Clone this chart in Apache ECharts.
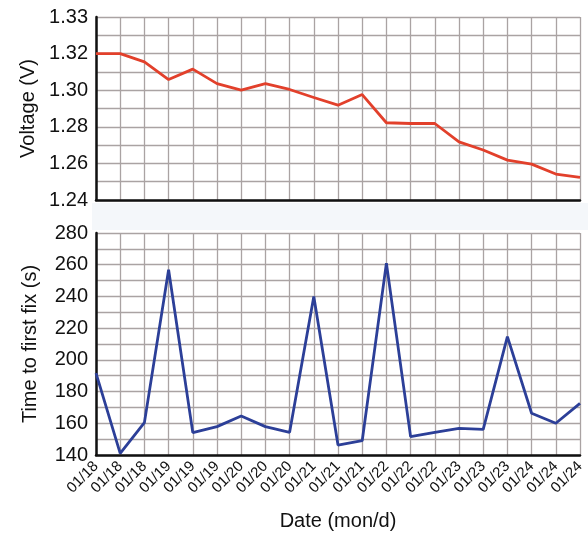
<!DOCTYPE html>
<html><head><meta charset="utf-8">
<script src="https://cdn.jsdelivr.net/npm/echarts@6/dist/echarts.min.js"></script>
<style>html,body{margin:0;padding:0;background:#fff}#c{width:588px;height:537px}</style>
</head><body><div id="c"></div>
<script>
const dates = ['01/18','01/18','01/18','01/19','01/19','01/19','01/20','01/20','01/20','01/21','01/21','01/21','01/22','01/22','01/22','01/23','01/23','01/23','01/24','01/24','01/24'];
const voltage = [1.320,1.320,1.3155,1.3058,1.3115,1.3036,1.300,1.3036,1.3004,1.296,1.2918,1.2976,1.2822,1.2818,1.2818,1.2718,1.2673,1.2618,1.2596,1.2542,1.2524];
const ttff = [191.6,141,160.4,256.8,154.1,157.9,164.6,157.9,154.3,240,146.3,149,261,151.6,154.3,156.8,156.2,214.7,166.3,160,172.6];
const voltageTicks = ['1.24','1.26','1.28','1.30','1.32','1.33'];
const ttffTicks = ['140','160','180','200','220','240','260','280'];

const FONT = '"Liberation Sans", Arial, sans-serif';
const gridColor = '#aaa3a3';
const chart = echarts.init(document.getElementById('c'));
function yAxisCommon(){
  return {
    axisLine:{show:true,lineStyle:{color:'#111',width:2.5}},
    axisTick:{show:false},
    splitLine:{show:true,lineStyle:{color:gridColor,width:1.3}},
    minorTick:{show:false,splitNumber:2},
    minorSplitLine:{show:true,lineStyle:{color:gridColor,width:1.3}},
    nameLocation:'middle',
    nameGap:56,
    nameTextStyle:{fontFamily:FONT,fontSize:20,color:'#111'},
  };
}
chart.setOption({
  backgroundColor:'#fff',
  animation:false,
  graphic:[{type:'rect',shape:{x:92,y:203,width:496,height:27},style:{fill:'#f4f7fa'},z:-1}],
  grid:[
    {left:96,right:8,top:17,height:183},
    {left:96,right:8,top:233,height:222}
  ],
  xAxis:[
    {type:'category',gridIndex:0,data:dates,boundaryGap:false,
     axisLine:{lineStyle:{color:'#111',width:2.5}},axisTick:{show:false},axisLabel:{show:false},
     splitLine:{show:true,interval:0,lineStyle:{color:gridColor,width:1.3}}},
    {type:'category',gridIndex:1,data:dates,boundaryGap:false,
     axisLine:{lineStyle:{color:'#111',width:2.5}},axisTick:{show:false},
     axisLabel:{show:true,interval:0,rotate:45,margin:9,fontFamily:FONT,fontSize:15,color:'#111',hideOverlap:false},
     splitLine:{show:true,interval:0,lineStyle:{color:gridColor,width:1.3}},
     name:'Date (mon/d)',nameLocation:'middle',nameGap:56,
     nameTextStyle:{fontFamily:FONT,fontSize:20,color:'#111'}}
  ],
  yAxis:[
    Object.assign(yAxisCommon(),{type:'value',gridIndex:0,min:1.24,max:1.34,interval:0.02,
      name:'Voltage (V)',
      axisLabel:{margin:8,fontFamily:FONT,fontSize:20,color:'#111',formatter:(v,i)=>voltageTicks[i]}}),
    Object.assign(yAxisCommon(),{type:'value',gridIndex:1,min:140,max:280,interval:20,
      name:'Time to first fix (s)',
      axisLabel:{margin:8,fontFamily:FONT,fontSize:20,color:'#111',formatter:(v,i)=>ttffTicks[i]}})
  ],
  series:[
    {type:'line',xAxisIndex:0,yAxisIndex:0,data:voltage,symbol:'none',
     lineStyle:{color:'#e2402b',width:2.8}},
    {type:'line',xAxisIndex:1,yAxisIndex:1,data:ttff,symbol:'none',
     lineStyle:{color:'#2c3f98',width:2.8}}
  ]
});
</script></body></html>
